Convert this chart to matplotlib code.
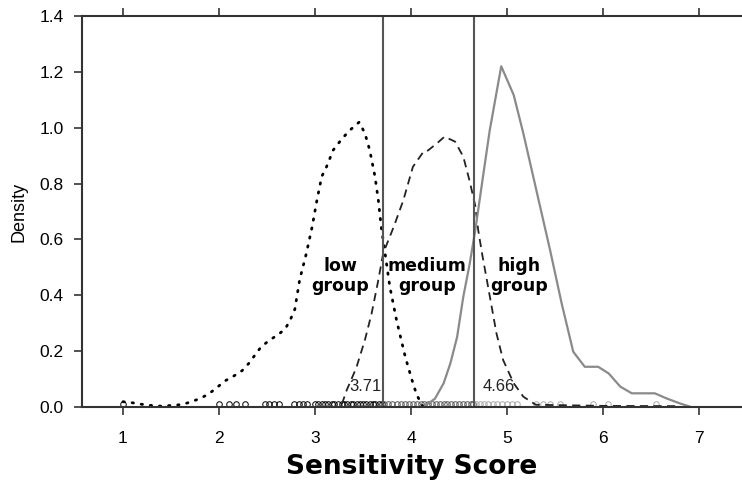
import matplotlib.pyplot as plt

# density curves
low_x = [1.0, 1.1, 1.19, 1.28, 1.4, 1.56, 1.63, 1.72, 1.8, 1.89, 1.98, 2.06, 2.15, 2.24, 2.31, 2.375,
         2.44, 2.53, 2.62, 2.69, 2.74, 2.79, 2.84, 2.91, 2.97, 3.02, 3.07, 3.12, 3.19, 3.28, 3.36,
         3.46, 3.52, 3.57, 3.625, 3.66, 3.69, 3.73, 3.78, 3.85, 3.94, 4.01, 4.06, 4.12]
low_y = [0.019, 0.015, 0.01, 0.006, 0.003, 0.007, 0.01, 0.02, 0.03, 0.046, 0.07, 0.093, 0.11, 0.13,
         0.156, 0.186, 0.216, 0.24, 0.26, 0.28, 0.31, 0.35, 0.455, 0.55, 0.645, 0.74, 0.825, 0.86,
         0.92, 0.96, 0.99, 1.02, 0.98, 0.92, 0.825, 0.74, 0.645, 0.55, 0.43, 0.31, 0.18, 0.097,
         0.043, 0.005]

med_x = [3.28, 3.33, 3.43, 3.52, 3.59, 3.66, 3.71, 3.82, 3.92, 4.02, 4.13, 4.16, 4.27, 4.35, 4.46,
         4.545, 4.61, 4.67, 4.70, 4.74, 4.79, 4.84, 4.89, 4.96, 5.07, 5.17, 5.3, 6.0, 6.8]
med_y = [0.01, 0.06, 0.14, 0.24, 0.335, 0.455, 0.55, 0.645, 0.74, 0.86, 0.914, 0.914, 0.944, 0.968,
         0.95, 0.896, 0.81, 0.72, 0.634, 0.55, 0.455, 0.36, 0.264, 0.168, 0.085, 0.037, 0.008,
         0.004, 0.003]

high_x = [4.15, 4.25, 4.34, 4.41, 4.48, 4.545, 4.61, 4.67, 4.75, 4.82, 4.94, 5.07, 5.17, 5.33,
          5.45, 5.57, 5.69, 5.81, 5.95, 6.06, 6.18, 6.30, 6.54, 6.66, 6.80, 6.9]
high_y = [0.005, 0.03, 0.085, 0.156, 0.25, 0.395, 0.51, 0.634, 0.825, 0.99, 1.22, 1.117, 0.98,
          0.74, 0.56, 0.37, 0.198, 0.144, 0.144, 0.12, 0.073, 0.049, 0.049, 0.031, 0.013, 0.002]

# raw scores shown as points along the baseline
low_pts = [1.0, 2.0, 2.1, 2.18, 2.27, 2.48, 2.52, 2.57, 2.62, 2.78, 2.83, 2.88, 2.92, 3.0, 3.03,
           3.07, 3.1, 3.14, 3.18, 3.2, 3.24, 3.28, 3.3, 3.33, 3.37, 3.4, 3.44, 3.47, 3.5, 3.53,
           3.57, 3.6, 3.63, 3.67, 3.7]
med_pts = [3.72, 3.76, 3.8, 3.85, 3.9, 3.94, 3.98, 4.02, 4.06, 4.1, 4.14, 4.18, 4.22, 4.26, 4.3,
           4.34, 4.38, 4.42, 4.46, 4.5, 4.54, 4.58, 4.62, 4.65]
high_pts = [4.68, 4.72, 4.76, 4.8, 4.85, 4.9, 4.95, 5.0, 5.05, 5.1, 5.3, 5.38, 5.45, 5.55, 5.9,
            6.05, 6.55]

cuts = [3.71, 4.66]
cut_labels = ["3.71", "4.66"]

plt.rcParams['font.family'] = ['Liberation Sans', 'DejaVu Sans']

fig = plt.figure(figsize=(7.42, 4.83), dpi=100)
ax = fig.add_axes([82/742, 76/483, 660/742, 391/483])

ax.plot(low_pts, [0.011]*len(low_pts), 'o', mfc='none', mec='black', ms=4, mew=0.7)
ax.plot(med_pts, [0.011]*len(med_pts), 'o', mfc='none', mec='#555555', ms=4, mew=0.7)
ax.plot(high_pts, [0.011]*len(high_pts), 'o', mfc='none', mec='#aaaaaa', ms=4, mew=0.7)

ax.plot(low_x, low_y, color='black', lw=2.0, linestyle=(0, (0.5, 2.8)), dash_capstyle='round')
ax.plot(med_x, med_y, color='#222222', lw=1.3, linestyle=(0, (4.5, 3)))
ax.plot(high_x, high_y, color='#8a8a8a', lw=1.6)

for c in cuts:
    ax.axvline(c, color='#555555', lw=1.5)
ax.text(cuts[0] - 0.02, 0.075, cut_labels[0], ha='right', va='center', fontsize=12, color='#222222')
ax.text(cuts[1] + 0.09, 0.075, cut_labels[1], ha='left', va='center', fontsize=12, color='#222222')

grp_font = dict(family='DejaVu Sans', fontweight='bold', fontsize=12.5, ha='center', va='center',
                linespacing=1.15)
ax.text(3.26, 0.47, "low\ngroup", **grp_font)
ax.text(4.17, 0.47, "medium\ngroup", **grp_font)
ax.text(5.13, 0.47, "high\ngroup", **grp_font)

ax.set_xlim(0.573, 7.448)
ax.set_ylim(0, 1.4)
ax.set_xticks([1, 2, 3, 4, 5, 6, 7])
ax.set_yticks([0, 0.2, 0.4, 0.6, 0.8, 1.0, 1.2, 1.4])
ax.set_yticklabels(["0.0", "0.2", "0.4", "0.6", "0.8", "1.0", "1.2", "1.4"])
ax.tick_params(axis='x', top=True, bottom=True, direction='out', length=6, width=1.2,
               color='#333333', labelsize=12.5, pad=11)
ax.tick_params(axis='y', left=True, right=False, direction='out', length=6, width=1.2,
               color='#333333', labelsize=12.5, pad=7)
for s in ['left', 'top', 'bottom']:
    ax.spines[s].set_color('#333333')
    ax.spines[s].set_linewidth(1.5)
ax.spines['right'].set_visible(False)

ax.set_xlabel('Sensitivity Score', family='DejaVu Sans', fontweight='bold', fontsize=19, labelpad=6)
ax.set_ylabel('Density', fontsize=13, labelpad=9)

fig.savefig('out.png', dpi=100)
